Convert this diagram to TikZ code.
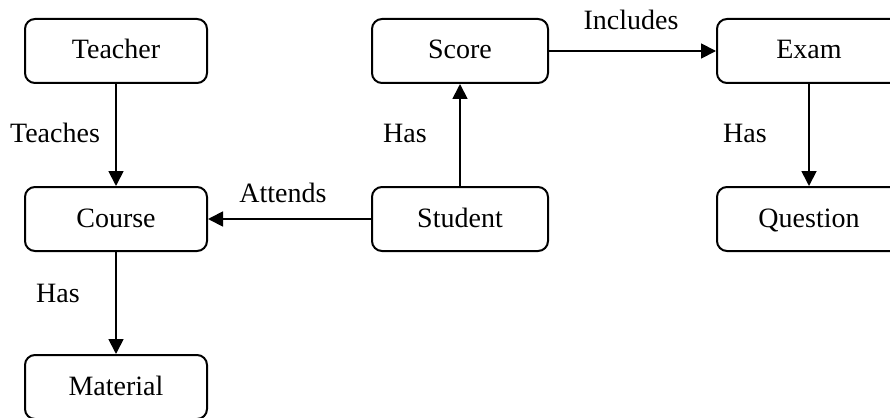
\documentclass[tikz,border=0pt]{standalone}
\usepackage{fontspec}
\setmainfont{Liberation Serif}
\usetikzlibrary{arrows.meta}

\tikzset{
  entity/.style={draw=black, line width=2pt, rounded corners=10pt,
    minimum height=64pt, inner sep=0pt, text height=18pt, text depth=2pt,
    font=\fontsize{28}{34}\selectfont},
  rel/.style={line width=1.8pt, -{Triangle[length=15pt,width=15pt]}},
  rellabel/.style={inner sep=0pt, font=\fontsize{28}{34}\selectfont}
}

\begin{document}
\begin{tikzpicture}[x=1pt, y=-1pt]
  \useasboundingbox (0,0) rectangle (890,417);
  \clip (0,0) rectangle (890,417);

  % entities
  \node[entity, minimum width=182pt] (teacher)  at (116,51)  {Teacher};
  \node[entity, minimum width=182pt] (course)   at (116,219) {Course};
  \node[entity, minimum width=182pt] (material) at (116,387) {Material};
  \node[entity, minimum width=176pt] (score)    at (460,51)  {Score};
  \node[entity, minimum width=176pt] (student)  at (460,219) {Student};
  \node[entity, minimum width=184pt] (exam)     at (809,51)  {Exam};
  \node[entity, minimum width=184pt] (question) at (809,219) {Question};

  % relationships
  \draw[rel] (teacher) -- (course);
  \draw[rel] (course) -- (material);
  \draw[rel] (student) -- (course);
  \draw[rel] (student) -- (score);
  \draw[rel] (score) -- (exam);
  \draw[rel] (exam) -- (question);

  % relationship labels
  \node[rellabel] (lteaches)  at (55,133)  {Teaches};
  \node[rellabel] (lhas1)     at (58,293)  {Has};
  \node[rellabel] (lattends)  at (283,193) {Attends};
  \node[rellabel] (lhas2)     at (405,133) {Has};
  \node[rellabel] (lincludes) at (631,20)  {Includes};
  \node[rellabel] (lhas3)     at (745,133) {Has};
\end{tikzpicture}
\end{document}
